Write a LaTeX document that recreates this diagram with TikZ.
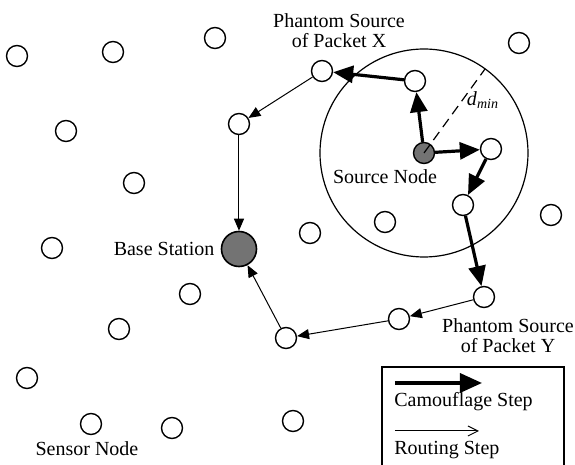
\documentclass[tikz,border=0pt]{standalone}
\usepackage{fontspec}
\setmainfont{Liberation Serif}
\usetikzlibrary{arrows.meta,positioning,calc}

\tikzset{
  sensor/.style={circle,draw,line width=0.7pt,fill=white,minimum size=10.5pt,inner sep=0pt},
  srcnode/.style={sensor,fill=black!55,minimum size=10.5pt},
  basenode/.style={circle,draw,line width=0.8pt,fill=black!55,minimum size=17.5pt,inner sep=0pt},
  camo/.style={line width=1.6pt,-{Triangle[length=10pt,width=8.5pt]}},
  routing/.style={line width=0.5pt,-{Triangle[length=6pt,width=5pt]}},
  lbl/.style={font=\fontsize{10}{10}\selectfont,align=center,inner sep=0pt}
}

\begin{document}
\begin{tikzpicture}[x=0.5pt,y=-0.5pt]
\useasboundingbox (0,0) rectangle (575,465);

% Camouflage region
\node[srcnode] (src) at (424,153) {};
\draw[line width=0.6pt] (src.center) circle[radius=52pt];
\coordinate (rim) at ($(src.center)+(54:52pt)$);
\draw[line width=0.6pt,dash pattern=on 5pt off 3pt] (src.center) -- (rim);
\node[lbl] (dmin) at (483,100) {\textit{d}\textsubscript{\textit{min}}};

% Sensor nodes
\node[sensor] (s1) at (17,56) {};
\node[sensor] (s2) at (113,52) {};
\node[sensor] (s3) at (215,38) {};
\node[sensor] (s4) at (66,131) {};
\node[sensor] (s5) at (134,183) {};
\node[sensor] (s6) at (52,248) {};
\node[sensor] (s7) at (190,294) {};
\node[sensor] (s8) at (119,329) {};
\node[sensor] (s9) at (27,378) {};
\node[sensor] (s10) at (91,424) {};
\node[sensor] (s11) at (172,428) {};
\node[sensor] (s12) at (293,421) {};
\node[sensor] (s13) at (310,233) {};
\node[sensor] (s14) at (385,222) {};
\node[sensor] (s15) at (519,43) {};
\node[sensor] (s16) at (551,215) {};

% Nodes on the paths
\node[sensor] (c1) at (415,81) {};
\node[sensor] (phx) at (322,71) {};
\node[sensor] (c2) at (491,149) {};
\node[sensor] (c3) at (463,205) {};
\node[sensor] (phy) at (484,297) {};
\node[sensor] (r1) at (239,124) {};
\node[sensor] (r2) at (399,319) {};
\node[sensor] (r3) at (286,338) {};
\node[basenode] (bs) at (239,249) {};

% Camouflage steps
\draw[camo] (src) -- (c1);
\draw[camo] (c1) -- (phx);
\draw[camo] (src) -- (c2);
\draw[camo] (c2) -- (c3);
\draw[camo] (c3) -- (phy);

% Routing steps
\draw[routing] (phx) -- (r1);
\draw[routing] (r1) -- (bs);
\draw[routing] (phy) -- (r2);
\draw[routing] (r2) -- (r3);
\draw[routing] (r3) -- (bs);

% Labels
\node[lbl] (lphx) at (339,31) {Phantom Source\\of Packet X};
\node[lbl] (lsrc) at (385,177) {Source Node};
\node[lbl,left=3pt of bs] (lbs) {Base Station};
\node[lbl] (lphy) at (508,336) {Phantom Source\\of Packet Y};
\node[lbl] (lsen) at (87,449) {Sensor Node};

% Legend
\draw[line width=0.6pt] (382,466) -- (382,367) -- (564,367) -- (564,466);
\coordinate (cs) at (395,383);
\coordinate (ce) at (482,383);
\draw[line width=1.7pt,-{Triangle[length=11pt,width=9.5pt]}] (cs) -- (ce);
\node[lbl,anchor=base west] (lcam) at (394,407) {Camouflage Step};
\coordinate (rs) at (395,431);
\coordinate (re) at (479,431);
\draw[line width=0.5pt,-{Straight Barb[length=5pt,width=5pt]}] (rs) -- (re);
\node[lbl,anchor=base west] (lrout) at (394,455) {Routing Step};
\end{tikzpicture}
\end{document}
